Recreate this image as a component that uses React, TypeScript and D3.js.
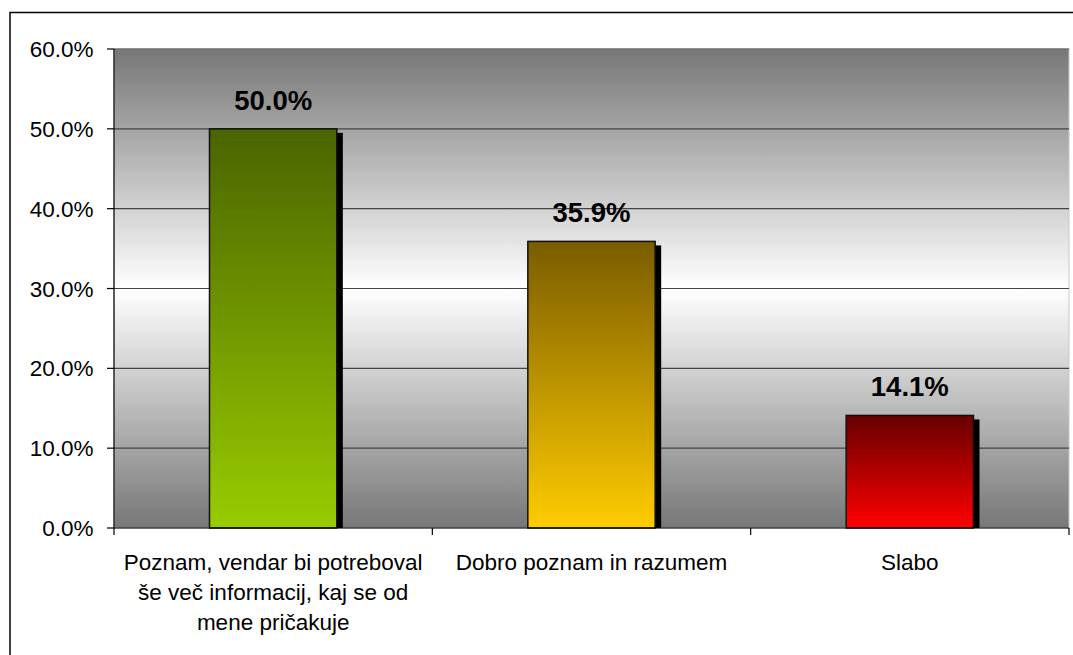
import React from "react";
import * as d3 from "d3";

const categories = [
  "Poznam, vendar bi potreboval še več informacij, kaj se od mene pričakuje",
  "Dobro poznam in razumem",
  "Slabo",
];
const categoryLines = [
  ["Poznam, vendar bi potreboval", "še več informacij, kaj se od", "mene pričakuje"],
  ["Dobro poznam in razumem"],
  ["Slabo"],
];
const values = [50.0, 35.9, 14.1];
const barTopColors = ["#4a6400", "#7a5c00", "#660000"];
const barBottomColors = ["#99cc00", "#ffcc00", "#ff0000"];
const yTicks = [0, 10, 20, 30, 40, 50, 60];

const W = 1073;
const H = 655;
const plot = { left: 114, right: 1069, top: 49, bottom: 528 };
const FONT = "'Liberation Sans', Arial, sans-serif";

export default function App() {
  const x = d3
    .scaleBand<string>()
    .domain(categories)
    .range([plot.left, plot.right])
    .padding(0);
  const y = d3.scaleLinear().domain([0, 60]).range([plot.bottom, plot.top]);
  const barW = x.bandwidth() * 0.4;
  const fmt = (v: number) => d3.format(".1f")(v) + "%";
  const shadowDx = 6;
  const shadowDy = 4;

  return (
    <svg
      width={W}
      height={H}
      style={{ position: "absolute", left: 0, top: 0, background: "#fff" }}
      fontFamily={FONT}
    >
      <defs>
        <linearGradient id="bg" x1="0" y1="0" x2="0" y2="1">
          <stop offset="0" stopColor="#777777" />
          <stop offset="0.5" stopColor="#ffffff" />
          <stop offset="1" stopColor="#777777" />
        </linearGradient>
        {categories.map((c, i) => (
          <linearGradient key={c} id={`bar${i}`} x1="0" y1="0" x2="0" y2="1">
            <stop offset="0" stopColor={barTopColors[i]} />
            <stop offset="1" stopColor={barBottomColors[i]} />
          </linearGradient>
        ))}
        <clipPath id="plotClip">
          <rect
            x={plot.left}
            y={plot.top}
            width={plot.right - plot.left}
            height={plot.bottom - plot.top}
          />
        </clipPath>
      </defs>

      <rect x={0} y={0} width={W} height={H} fill="#fff" />
      {/* outer chart border */}
      <rect x={10} y={12.5} width={W + 20} height={H + 20} fill="none" stroke="#000" strokeWidth={1.5} />

      {/* plot background */}
      <rect
        x={plot.left}
        y={plot.top}
        width={plot.right - plot.left}
        height={plot.bottom - plot.top}
        fill="url(#bg)"
        stroke="#c8c8c8"
        strokeWidth={1}
      />

      {/* gridlines */}
      {yTicks
        .filter((t) => t > 0)
        .map((t) => (
          <line
            key={t}
            x1={plot.left}
            x2={plot.right}
            y1={y(t)}
            y2={y(t)}
            stroke="#444"
            strokeWidth={1.2}
          />
        ))}

      {/* bar shadows */}
      <g clipPath="url(#plotClip)">
        {categories.map((c, i) => {
          const cx = (x(c) as number) + x.bandwidth() / 2;
          const bx = cx - barW / 2;
          return (
            <rect
              key={"s" + c}
              x={bx + shadowDx}
              y={y(values[i]) + shadowDy}
              width={barW}
              height={plot.bottom - y(values[i])}
              fill="#000"
            />
          );
        })}
      </g>
      {/* bars */}
      {categories.map((c, i) => {
        const cx = (x(c) as number) + x.bandwidth() / 2;
        const bx = cx - barW / 2;
        return (
          <rect
            key={"b" + c}
            x={bx}
            y={y(values[i])}
            width={barW}
            height={plot.bottom - y(values[i])}
            fill={`url(#bar${i})`}
            stroke="#111"
            strokeWidth={1.5}
          />
        );
      })}

      {/* data labels */}
      {categories.map((c, i) => {
        const cx = (x(c) as number) + x.bandwidth() / 2;
        return (
          <text
            key={"l" + c}
            x={cx}
            y={y(values[i]) - 19}
            textAnchor="middle"
            fontWeight="bold"
            fontSize={27.5}
            fill="#000"
          >
            {fmt(values[i])}
          </text>
        );
      })}

      {/* y axis */}
      <line x1={plot.left} x2={plot.left} y1={plot.top} y2={plot.bottom} stroke="#000" strokeWidth={1.2} />
      {yTicks.map((t) => (
        <g key={"yt" + t}>
          <line x1={plot.left - 7} x2={plot.left} y1={y(t)} y2={y(t)} stroke="#000" strokeWidth={1.2} />
          <text x={93.5} y={y(t) + 8} textAnchor="end" fontSize={22.5} fill="#000">
            {fmt(t)}
          </text>
        </g>
      ))}

      {/* x axis */}
      <line x1={plot.left} x2={plot.right} y1={plot.bottom} y2={plot.bottom} stroke="#000" strokeWidth={1.2} />
      {[...categories.map((c) => x(c) as number), plot.right].map((px, i) => (
        <line key={"xt" + i} x1={px} x2={px} y1={plot.bottom} y2={plot.bottom + 7} stroke="#000" strokeWidth={1.2} />
      ))}
      {categories.map((c, i) => {
        const cx = (x(c) as number) + x.bandwidth() / 2;
        return (
          <text key={"xl" + c} textAnchor="middle" fontSize={22.5} fill="#000">
            {categoryLines[i].map((ln, j) => (
              <tspan key={j} x={cx} y={570 + j * 30}>
                {ln}
              </tspan>
            ))}
          </text>
        );
      })}
    </svg>
  );
}
